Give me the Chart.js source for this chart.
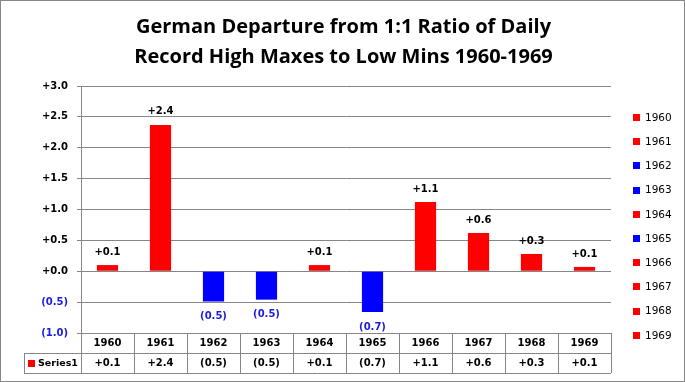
<!DOCTYPE html>
<html>
<head>
<meta charset="utf-8">
<script src="https://cdn.jsdelivr.net/npm/chart.js@4.4.1/dist/chart.umd.min.js"></script>
<style>
  html, body { margin: 0; padding: 0; background: #fff; }
</style>
</head>
<body>
<canvas id="myChart" width="685" height="382"></canvas>
<script>
const years = ['1960', '1961', '1962', '1963', '1964', '1965', '1966', '1967', '1968', '1969'];
const departure = [0.1, 2.37, -0.49, -0.46, 0.1, -0.66, 1.12, 0.62, 0.28, 0.07];
const yTicks = [-1.0, -0.5, 0.0, 0.5, 1.0, 1.5, 2.0, 2.5, 3.0];
const seriesName = 'Series1';
const titleLines = [
  'German Departure from 1:1 Ratio of Daily',
  'Record High Maxes to Low Mins 1960-1969',
];

const RED = '#ff0000';
const BLUE = '#0000ff';
const NEG_TEXT = '#1a1ae8';
const GRID = '#868686';
const TXT_FONT = 'bold 10px "DejaVu Sans"';

// excel style number format: +0.1 / (0.5)
const fmt = (v) => (v < 0 ? `(${Math.abs(v).toFixed(1)})` : `+${v.toFixed(1)}`);
const barColors = departure.map((v) => (v < 0 ? BLUE : RED));

/* title, labels above/below bars, data table, legend and frame */
const sheetPlugin = {
  id: 'sheet',
  afterDraw(chart) {
    const ctx = chart.ctx;
    const area = chart.chartArea;
    const xs = chart.scales.x;
    const meta = chart.getDatasetMeta(0);
    ctx.save();

    // title, centred on the whole picture
    ctx.fillStyle = '#000';
    ctx.font = 'bold 20px "Open Sans"';
    ctx.textAlign = 'center';
    ctx.textBaseline = 'alphabetic';
    titleLines.forEach((line, i) => ctx.fillText(line, chart.width / 2 + 1, 33 + i * 30));

    // value labels
    ctx.font = TXT_FONT;
    ctx.textBaseline = 'middle';
    meta.data.forEach((bar, i) => {
      const v = departure[i];
      ctx.fillStyle = v < 0 ? NEG_TEXT : '#000';
      ctx.fillText(fmt(v), bar.x, v < 0 ? bar.y + 15 : bar.y - 13);
    });

    // data table
    const top = area.bottom;
    const rowH = 20;
    const catW = xs.width / years.length;
    const tableLeft = 24;
    ctx.strokeStyle = GRID;
    ctx.lineWidth = 1;
    ctx.beginPath();
    ctx.moveTo(tableLeft, top + rowH + 0.5);
    ctx.lineTo(area.right, top + rowH + 0.5);
    ctx.moveTo(tableLeft, top + 2 * rowH + 0.5);
    ctx.lineTo(area.right, top + 2 * rowH + 0.5);
    ctx.moveTo(tableLeft + 0.5, top + rowH);
    ctx.lineTo(tableLeft + 0.5, top + 2 * rowH);
    for (let i = 0; i <= years.length; i++) {
      const bx = Math.round(xs.getPixelForValue(0) - catW / 2 + i * catW) + 0.5;
      ctx.moveTo(bx, top);
      ctx.lineTo(bx, top + 2 * rowH);
    }
    ctx.stroke();

    ctx.fillStyle = '#000';
    years.forEach((y, i) => {
      const cx = xs.getPixelForValue(i);
      ctx.fillText(y, cx, top + rowH / 2 + 0.5);
      ctx.fillText(fmt(departure[i]), cx, top + rowH * 1.5 + 0.5);
    });
    ctx.fillStyle = RED;
    ctx.fillRect(28, top + 27, 7, 7);
    ctx.fillStyle = '#000';
    ctx.textAlign = 'left';
    ctx.font = 'bold 9.5px "DejaVu Sans"';
    ctx.fillText(seriesName, 38, top + rowH * 1.5 + 0.5);

    // legend on the right
    ctx.font = '10.5px "DejaVu Sans"';
    years.forEach((y, i) => {
      const cy = 117.5 + i * 24.2;
      ctx.fillStyle = barColors[i];
      ctx.fillRect(633, Math.round(cy - 3.5), 7, 7);
      ctx.fillStyle = '#000';
      ctx.fillText(y, 645, cy + 0.5);
    });

    // chart frame
    ctx.strokeStyle = GRID;
    ctx.strokeRect(0.5, 0.5, 684, 381);
    ctx.restore();
  },
};

const ctx = document.getElementById('myChart');

new Chart(ctx, {
  type: 'bar',
  data: {
    labels: years,
    datasets: [
      {
        label: seriesName,
        data: departure,
        backgroundColor: barColors,
        borderWidth: 0,
        barPercentage: 0.8,
        categoryPercentage: 0.5,
      },
    ],
  },
  options: {
    responsive: false,
    animation: false,
    devicePixelRatio: 1,
    layout: {
      padding: { left: 0, right: 74, top: 86, bottom: 49 },
    },
    plugins: {
      legend: { display: false },
      tooltip: { enabled: false },
      title: { display: false },
    },
    scales: {
      x: {
        display: false,
      },
      y: {
        min: -1,
        max: 3,
        afterBuildTicks: (scale) => {
          scale.ticks = yTicks.map((v) => ({ value: v }));
        },
        afterFit: (scale) => {
          scale.width = 81; // y axis line sits at x=81
        },
        border: { display: true, color: GRID },
        grid: {
          color: GRID,
          tickLength: 4,
        },
        ticks: {
          padding: 9,
          font: { family: 'DejaVu Sans', size: 10, weight: 'bold' },
          color: (c) => (c.tick && c.tick.value < 0 ? NEG_TEXT : '#000'),
          callback: (value) => fmt(value),
        },
      },
    },
  },
  plugins: [sheetPlugin],
});
</script>
</body>
</html>
